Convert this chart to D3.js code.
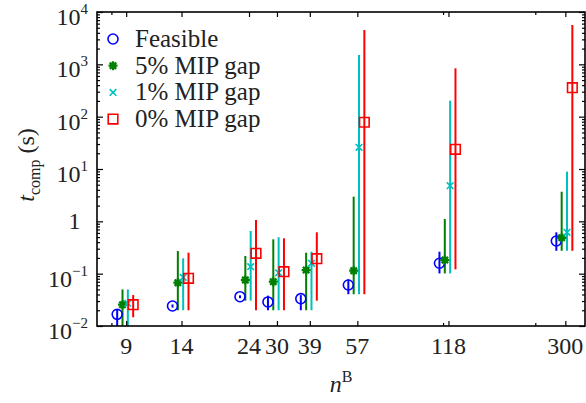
<!DOCTYPE html>
<html>
<head>
<meta charset="utf-8">
<script src="https://cdn.jsdelivr.net/npm/d3@7"></script>
<style>
  body { margin: 0; background: #fff; }
  text { font-family: "Liberation Serif", "Times New Roman", serif; fill: #222; }
</style>
</head>
<body>
<svg id="chart" width="586" height="403"></svg>
<script>
// values (seconds)
var nB = [9, 14, 24, 30, 39, 57, 118, 300];
var seriesNames = ["Feasible", "5% MIP gap", "1% MIP gap", "0% MIP gap"];
var seriesColors = ["#0000ff", "#007f00", "#00bfbf", "#ff0000"];

var feasMid = [0.0167, 0.0241, 0.0363, 0.0288, 0.0333, 0.0607, 0.158, 0.421];
var feasLo  = [0.008, 0.0225, 0.034, 0.020, 0.020, 0.0404, 0.101, 0.274];
var feasHi  = [0.021, 0.0258, 0.0385, 0.038, 0.039, 0.078, 0.263, 0.617];

var gap5Mid = [0.0255, 0.0672, 0.0757, 0.0703, 0.117, 0.114, 0.182, 0.486];
var gap5Lo  = [0.008, 0.020, 0.0305, 0.020, 0.020, 0.0404, 0.101, 0.274];
var gap5Hi  = [0.050, 0.271, 0.218, 0.453, 0.252, 2.96, 1.11, 3.68];

var gap1Mid = [0.0272, 0.085, 0.136, 0.104, 0.158, 26.0, 4.8, 0.617];
var gap1Lo  = [0.008, 0.020, 0.0305, 0.020, 0.020, 0.0404, 0.101, 0.274];
var gap1Hi  = [0.050, 0.197, 0.653, 0.497, 0.263, 1510, 202, 8.9];

var gap0Mid = [0.0255, 0.0815, 0.245, 0.109, 0.193, 78.2, 23.8, 358];
var gap0Lo  = [0.0147, 0.020, 0.020, 0.020, 0.0305, 0.0404, 0.121, 0.274];
var gap0Hi  = [0.039, 0.252, 1.06, 0.474, 0.617, 4530, 840, 5650];

var yTickVals = [1e-2, 1e-1, 1, 1e1, 1e2, 1e3, 1e4];
var xMinorTicks = [8, 113, 236];

var mids = [feasMid, gap5Mid, gap1Mid, gap0Mid];
var los = [feasLo, gap5Lo, gap1Lo, gap0Lo];
var his = [feasHi, gap5Hi, gap1Hi, gap0Hi];

var svg = d3.select('#chart');
var pLeft = 97, pRight = 585, pTop = 12, pBottom = 326;

var x = d3.scaleLog().domain([7.13, 351]).range([pLeft, pRight]);
var y = d3.scaleLog().domain([1e-2, 1e4]).range([pBottom, pTop]);
var dodge = d3.scalePoint().domain(seriesNames).range([-9, 7]);

// flatten into rows for drawing
var rows = [];
seriesNames.forEach(function(s, si){
	nB.forEach(function(n, i){
		rows.push({s: s, si: si, n: n, mid: mids[si][i], lo: los[si][i], hi: his[si][i]});
	});
});

svg.append('clipPath').attr('id', 'plotclip')
  .append('rect').attr('x', pLeft).attr('y', pTop)
  .attr('width', pRight - pLeft).attr('height', pBottom - pTop);

var plot = svg.append('g').attr('clip-path', 'url(#plotclip)');

function px(d){ return x(d.n) + dodge(d.s); }

//error bars
plot.selectAll('line.err')
	.data(rows)
  .enter().append('line')
	.attr('class', 'err')
	.attr('x1', px).attr('x2', px)
	.attr('y1', function(d){ return y(d.lo); })
	.attr('y2', function(d){ return y(d.hi); })
	.attr('stroke', function(d){ return seriesColors[d.si]; })
	.attr('stroke-width', 2);

function markerPath(si){
	if (si == 1){ // asterisk
		var s = 4.5, q = 3.2;
		return 'M' + (-s) + ',0H' + s + 'M0,' + (-s) + 'V' + s +
			'M' + (-q) + ',' + (-q) + 'L' + q + ',' + q + 'M' + (-q) + ',' + q + 'L' + q + ',' + (-q);
	}
	if (si == 2){ // cross
		var c = 3.3;
		return 'M' + (-c) + ',' + (-c) + 'L' + c + ',' + c + 'M' + (-c) + ',' + c + 'L' + c + ',' + (-c);
	}
	if (si == 3){ // square
		return 'M-4.8,-4.8H4.8V4.8H-4.8Z';
	}
	return 'M5,0A5,5 0 1,1 -5,0A5,5 0 1,1 5,0Z'; // circle
}

plot.selectAll('path.mark')
	.data(rows)
  .enter().append('path')
	.attr('class', 'mark')
	.attr('transform', function(d){ return 'translate(' + px(d) + ',' + y(d.mid) + ')'; })
	.attr('d', function(d){ return markerPath(d.si); })
	.attr('fill', 'none')
	.attr('stroke', function(d){ return seriesColors[d.si]; })
	.attr('stroke-width', function(d){ return d.si == 1 ? 2.3 : 1.6; });

// axes (ticks only, labels drawn by hand)
var minorY = y.ticks().filter(function(v){ return yTickVals.indexOf(v) < 0; });

svg.append('g').attr('transform', 'translate(' + pLeft + ',0)')
	.call(d3.axisLeft(y).tickValues(yTickVals).tickSize(-6).tickSizeOuter(0).tickFormat(''));
svg.append('g').attr('transform', 'translate(' + pLeft + ',0)')
	.call(d3.axisLeft(y).tickValues(minorY).tickSize(-3).tickSizeOuter(0).tickFormat(''));
svg.append('g').attr('transform', 'translate(' + pRight + ',0)')
	.call(d3.axisRight(y).tickValues(yTickVals).tickSize(-6).tickSizeOuter(0).tickFormat(''));
svg.append('g').attr('transform', 'translate(' + pRight + ',0)')
	.call(d3.axisRight(y).tickValues(minorY).tickSize(-3).tickSizeOuter(0).tickFormat(''));

svg.append('g').attr('transform', 'translate(0,' + pBottom + ')')
	.call(d3.axisBottom(x).tickValues(nB).tickSize(-5).tickSizeOuter(0).tickFormat(''));
svg.append('g').attr('transform', 'translate(0,' + pBottom + ')')
	.call(d3.axisBottom(x).tickValues(xMinorTicks).tickSize(-3).tickSizeOuter(0).tickFormat(''));
svg.append('g').attr('transform', 'translate(0,' + pTop + ')')
	.call(d3.axisTop(x).tickValues(nB).tickSize(-5).tickSizeOuter(0).tickFormat(''));
svg.append('g').attr('transform', 'translate(0,' + pTop + ')')
	.call(d3.axisTop(x).tickValues(xMinorTicks).tickSize(-3).tickSizeOuter(0).tickFormat(''));

svg.selectAll('.domain').remove();
svg.selectAll('.tick line').attr('stroke', '#000').attr('stroke-width', 1.2);

svg.append('rect')
	.attr('x', pLeft).attr('y', pTop)
	.attr('width', pRight - pLeft).attr('height', pBottom - pTop)
	.attr('fill', 'none').attr('stroke', '#000').attr('stroke-width', 1.6);

// x tick labels
svg.selectAll('text.xlab')
	.data(nB)
  .enter().append('text')
	.attr('class', 'xlab')
	.attr('x', function(d){ return x(d); })
	.attr('y', pBottom + 28)
	.attr('text-anchor', 'middle')
	.style('font-size', '24px')
	.text(function(d){ return d; });

// y tick labels, 10^k
var ylab = svg.selectAll('text.ylab')
	.data(yTickVals)
  .enter().append('text')
	.attr('class', 'ylab')
	.attr('x', pLeft - 9)
	.attr('y', function(d){ return y(d) + (Math.round(Math.log10(d)) == 0 ? 8 : 13); })
	.attr('text-anchor', 'end')
	.style('font-size', '24px');
ylab.each(function(d){
	var k = Math.round(Math.log10(d));
	var t = d3.select(this);
	if (k == 0){
		t.append('tspan').text('1');
		t.append('tspan').attr('dy', -10).style('font-size', '15px').attr('fill-opacity', 0).text('1');
	} else {
		t.append('tspan').text('10');
		t.append('tspan').attr('dy', -11).style('font-size', '15px')
			.text(k < 0 ? '\u2212' + (-k) : k);
	}
});

// axis titles
var yt = svg.append('text')
	.attr('transform', 'translate(34,165) rotate(-90)')
	.attr('text-anchor', 'middle')
	.style('font-size', '24px');
yt.append('tspan').style('font-style', 'italic').text('t');
yt.append('tspan').attr('dy', 6).style('font-size', '16px').text('comp');
yt.append('tspan').attr('dy', -6).text(' (s)');

var xt = svg.append('text')
	.attr('x', (pLeft + pRight) / 2)
	.attr('y', 392)
	.attr('text-anchor', 'middle')
	.style('font-size', '24px');
xt.append('tspan').style('font-style', 'italic').text('n');
xt.append('tspan').attr('dy', -10).style('font-size', '16px').text('B');

// legend
var leg = svg.append('g').selectAll('g')
	.data(seriesNames)
  .enter().append('g')
	.attr('transform', function(d, i){ return 'translate(113,' + (39 + i * 26.7) + ')'; });
leg.append('path')
	.attr('d', function(d, i){ return markerPath(i); })
	.attr('fill', 'none')
	.attr('stroke', function(d, i){ return seriesColors[i]; })
	.attr('stroke-width', function(d, i){ return i == 1 ? 2.3 : 1.6; });
leg.append('text')
	.attr('x', 22).attr('y', 8)
	.style('font-size', '25px')
	.text(function(d){ return d; });
</script>
</body>
</html>
